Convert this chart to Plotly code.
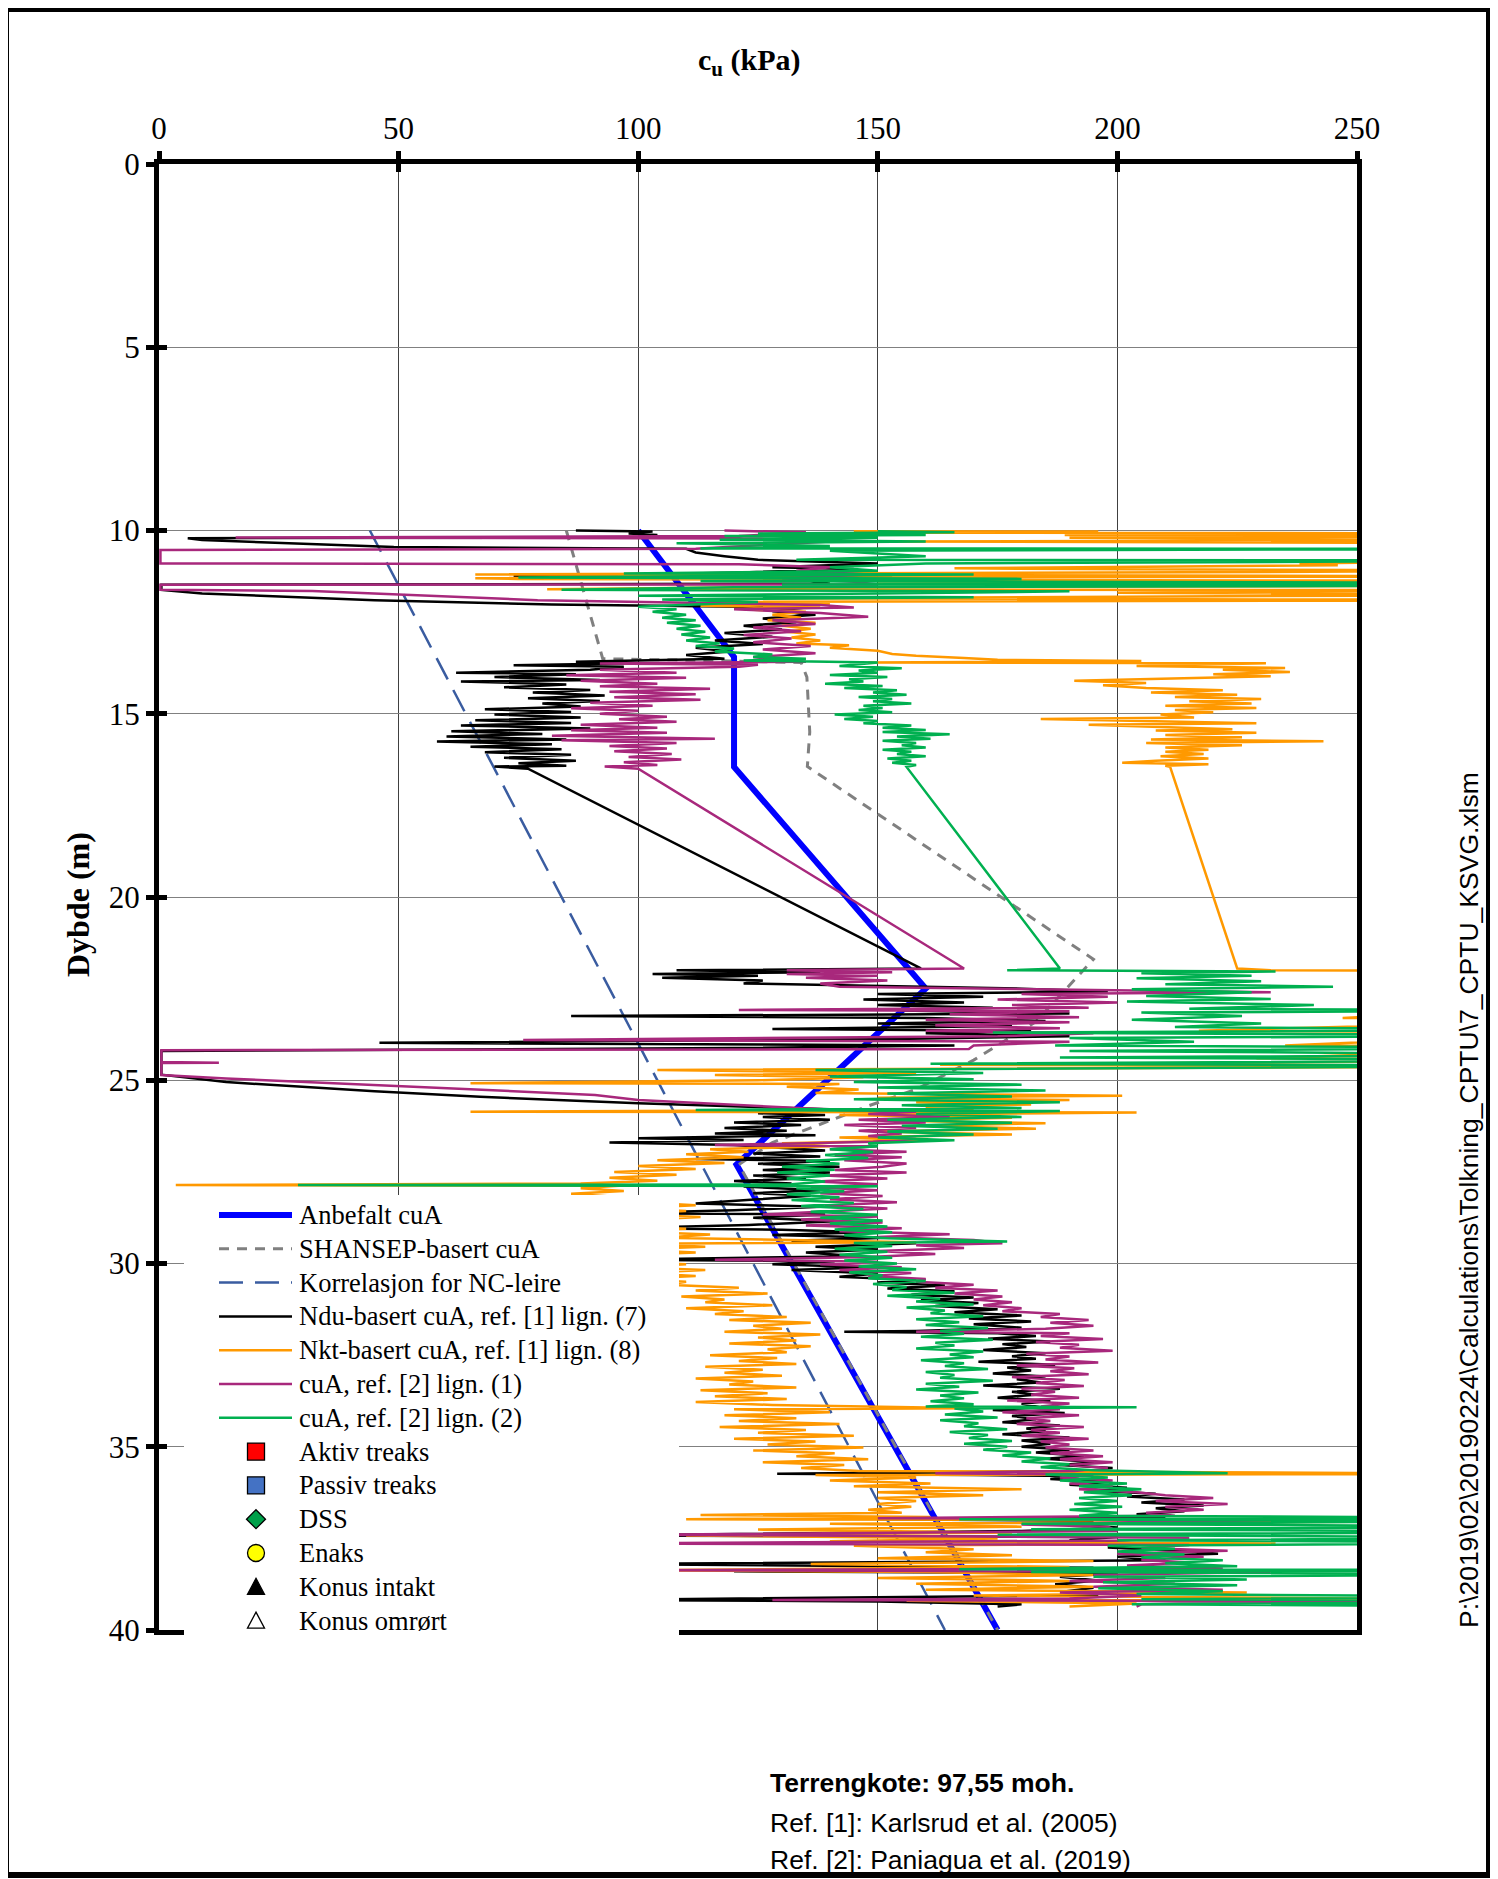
import plotly.graph_objects as go

# ---------------- DATA (cu in kPa, depth in m) ----------------
X_TICKS = [0, 50, 100, 150, 200, 250]
Y_TICKS = [0, 5, 10, 15, 20, 25, 30, 35, 40]

# (depth, cu)
ANBEFALT = [(10, 100), (13.45, 120), (16.45, 120), (22.5, 160), (27.3, 120.5), (40, 175)]
SHANSEP = [(10, 85), (13.5, 92.6), (13.53, 107), (13.6, 134), (14.0, 135.2), (15.5, 135.8), (16.44, 135.3),
           (21.7, 195), (23.4, 183), (24.45, 170), (25.25, 158), (25.7, 148), (26.3, 136), (26.7, 128),
           (27.3, 121), (40, 175)]
KORR_NC = [(10, 44), (40, 164)]

NDU = [(10.00, 87), (10.03, 103), (10.08, 98), (10.12, 104), (10.19, 100), (10.21, 6), (10.26, 9), (10.45, 49),
       (10.5, 110), (10.6, 112), (10.7, 118), (10.8, 125), (10.9, 150), (11.0, 128), (11.05, 145), (11.15, 120),
       (11.25, 74), (11.28, 153), (11.35, 135), (11.45, 140), (11.48, 0.5), (11.62, 0.5), (11.72, 9), (11.9, 45),
       (12.02, 82), (12.05, 101),
       (12.1, 135), (12.2, 128), (12.3, 137), (12.4, 126), (12.5, 133), (12.6, 122), (12.7, 130), (12.8, 118),
       (12.9, 128), (13.0, 116), (13.1, 126), (13.2, 112), (13.3, 119), (13.4, 110), (13.5, 118), (13.58, 87),
       (13.62, 99), (13.68, 74), (13.72, 97), (13.8, 90), (13.88, 62), (13.92, 87), (14.0, 70), (14.08, 92),
       (14.12, 63), (14.2, 85), (14.28, 72), (14.35, 90), (14.42, 78), (14.5, 93), (14.58, 77), (14.65, 92),
       (14.72, 80), (14.8, 88), (14.88, 68), (14.95, 86), (15.02, 70), (15.1, 88), (15.18, 66), (15.25, 86),
       (15.32, 63), (15.4, 90), (15.48, 61), (15.55, 80), (15.62, 60), (15.7, 85), (15.76, 58), (15.83, 82),
       (15.9, 65), (15.97, 84), (16.05, 68), (16.12, 86), (16.2, 72), (16.28, 87), (16.35, 75), (16.42, 85),
       (16.44, 70), (16.5, 77),
       (21.95, 159),
       (22.0, 108), (22.05, 138), (22.1, 103), (22.15, 125), (22.2, 105), (22.28, 126), (22.36, 122), (22.5, 180),
       (22.58, 198), (22.65, 150), (22.72, 172), (22.8, 147), (22.88, 168), (22.95, 150), (23.02, 174), (23.1, 155),
       (23.18, 190), (23.25, 86), (23.3, 160), (23.38, 185), (23.45, 150), (23.52, 178), (23.6, 128), (23.65, 182),
       (23.72, 160), (23.8, 190), (23.88, 150), (23.98, 46), (24.05, 166), (24.12, 120), (24.2, 0.5), (24.85, 0.5),
       (25.05, 14), (25.3, 45), (25.45, 67), (25.63, 100), (25.82, 147),
       (25.9, 125), (25.95, 139), (26.0, 126), (26.08, 140), (26.15, 120), (26.22, 134), (26.3, 118), (26.38, 131),
       (26.45, 116), (26.5, 137), (26.58, 100), (26.63, 122), (26.7, 94), (26.77, 120), (26.85, 130), (26.92, 139),
       (27.0, 124), (27.08, 138), (27.15, 112), (27.2, 140), (27.28, 125), (27.36, 142), (27.45, 126), (27.52, 140),
       (27.6, 124), (27.68, 135), (27.75, 120), (27.82, 132), (27.9, 122), (28.0, 138), (28.08, 124), (28.15, 136),
       (28.25, 125), (28.36, 112), (28.45, 138), (28.55, 120), (28.63, 95), (28.66, 139), (28.75, 124), (28.85, 141),
       (28.95, 123), (29.04, 95), (29.08, 130), (29.15, 148), (29.22, 128), (29.3, 152), (29.38, 132), (29.45, 158),
       (29.54, 137), (29.62, 150), (29.7, 135), (29.8, 146), (29.9, 95), (29.94, 141), (30.02, 128), (30.1, 148),
       (30.18, 132), (30.27, 150), (30.36, 142), (30.45, 158), (30.52, 150), (30.6, 164), (30.68, 152), (30.76, 166),
       (30.85, 157), (30.93, 170), (31.0, 159), (31.08, 171), (31.16, 162), (31.25, 175), (31.33, 166), (31.42, 180),
       (31.5, 169), (31.58, 182), (31.66, 170), (31.75, 180), (31.84, 158), (31.86, 143), (31.9, 175), (31.98, 183),
       (32.05, 173), (32.13, 186), (32.2, 176), (32.28, 181), (32.36, 172), (32.45, 185), (32.53, 178), (32.6, 183),
       (32.68, 171), (32.76, 187), (32.84, 177), (32.92, 182), (33.0, 174), (33.08, 185), (33.16, 179), (33.25, 184),
       (33.33, 172), (33.42, 188), (33.5, 178), (33.58, 183), (33.66, 175), (33.75, 186), (33.83, 180), (33.92, 184),
       (34.0, 174), (34.08, 189), (34.16, 178), (34.25, 183), (34.33, 176), (34.42, 188), (34.5, 181), (34.58, 185),
       (34.66, 176), (34.75, 190), (34.83, 180), (34.92, 186), (35.0, 180), (35.08, 190), (35.16, 183), (35.25, 193),
       (35.33, 185), (35.42, 196), (35.5, 188), (35.58, 199), (35.66, 190), (35.74, 129), (35.77, 170), (35.8, 192),
       (35.88, 186), (35.96, 198), (36.04, 190), (36.12, 202), (36.2, 195), (36.28, 208), (36.36, 202), (36.44, 214),
       (36.52, 205), (36.6, 218), (36.68, 208), (36.76, 214), (36.84, 204), (36.92, 210), (36.98, 150), (37.02, 195),
       (37.1, 188), (37.2, 200), (37.3, 180), (37.42, 90), (37.46, 200), (37.55, 190), (37.65, 205), (37.75, 198),
       (37.85, 215), (37.92, 221), (38.0, 200), (38.1, 210), (38.2, 90), (38.25, 150), (38.3, 195), (38.4, 120),
       (38.45, 200), (38.55, 188), (38.65, 196), (38.75, 187), (38.85, 195), (38.95, 189), (39.05, 196), (39.18, 90),
       (39.22, 150), (39.3, 180), (39.36, 175)]

NKT = [(10.02, 145), (10.03, 196), (10.06, 154), (10.08, 300), (10.12, 189), (10.15, 300), (10.2, 190), (10.25, 300),
       (10.3, 154), (10.35, 300), (10.45, 280), (10.6, 300), (10.8, 300), (10.9, 238), (10.95, 246), (11.03, 166),
       (11.06, 202), (11.1, 300), (11.2, 66), (11.25, 300), (11.3, 66), (11.32, 75), (11.38, 300), (11.45, 150),
       (11.5, 300), (11.55, 124), (11.6, 81), (11.63, 300), (11.7, 200), (11.75, 300), (11.85, 126), (11.9, 300),
       (11.95, 115), (12.0, 140), (12.05, 113),
       (12.1, 138), (12.15, 122), (12.22, 135), (12.3, 128), (12.38, 134), (12.45, 127), (12.52, 137), (12.6, 130),
       (12.68, 136), (12.76, 131), (12.84, 137), (12.92, 132), (13.0, 138), (13.08, 133), (13.13, 144), (13.2, 140),
       (13.28, 150), (13.37, 153), (13.42, 158), (13.48, 168), (13.53, 175), (13.56, 205), (13.6, 148), (13.62, 231),
       (13.7, 204), (13.75, 235), (13.8, 222), (13.86, 236), (13.92, 220), (13.98, 232), (14.04, 210), (14.1, 191),
       (14.16, 206), (14.22, 197), (14.3, 206), (14.36, 222), (14.42, 207), (14.48, 225), (14.54, 212), (14.6, 230),
       (14.66, 215), (14.72, 228), (14.78, 210), (14.84, 229), (14.9, 212), (14.96, 220), (15.02, 209), (15.1, 216),
       (15.14, 184), (15.2, 206), (15.26, 229), (15.3, 194), (15.36, 210), (15.42, 224), (15.46, 208), (15.52, 229),
       (15.58, 210), (15.64, 226), (15.7, 207), (15.75, 243), (15.8, 206), (15.86, 226), (15.92, 210), (15.98, 219),
       (16.04, 210), (16.1, 218), (16.16, 209), (16.22, 219), (16.28, 208), (16.34, 201), (16.38, 219), (16.42, 210),
       (16.45, 211),
       (21.95, 225),
       (22.0, 232), (22.03, 300), (22.4, 300), (22.7, 300), (23.0, 300), (23.3, 247), (23.35, 300), (23.65, 217),
       (23.7, 300), (24.05, 235), (24.1, 300), (24.4, 229), (24.45, 300), (24.58, 163), (24.62, 300),
       (24.72, 104), (24.8, 158), (24.86, 116), (24.92, 147), (25.0, 125), (25.08, 65), (25.1, 142), (25.18, 131),
       (25.25, 146), (25.35, 137), (25.42, 201), (25.48, 150), (25.54, 190), (25.6, 158), (25.66, 182), (25.72, 160),
       (25.8, 170), (25.86, 65), (25.88, 204), (25.95, 142), (26.02, 178), (26.1, 150), (26.17, 185), (26.24, 160),
       (26.32, 183), (26.4, 150), (26.48, 178), (26.56, 142), (26.64, 160), (26.72, 130), (26.8, 140), (26.88, 115),
       (26.95, 123), (27.02, 110), (27.1, 122), (27.18, 104), (27.26, 118), (27.34, 100), (27.42, 112), (27.5, 95),
       (27.58, 108), (27.66, 94), (27.74, 104), (27.82, 88), (27.86, 3.5), (27.88, 96), (27.95, 88), (28.02, 97),
       (28.1, 86), (28.18, 95), (28.25, 88),
       (28.33, 100), (28.41, 112), (28.49, 98), (28.57, 110), (28.65, 96), (28.73, 113), (28.81, 100), (28.89, 108),
       (28.97, 95), (29.05, 110), (29.13, 98), (29.21, 115), (29.3, 105), (29.42, 158), (29.46, 100), (29.54, 114),
       (29.62, 98), (29.7, 112), (29.78, 96), (29.86, 108), (29.94, 94), (30.02, 110), (30.1, 98), (30.18, 114),
       (30.26, 100), (30.34, 112), (30.42, 98),
       (30.5, 110), (30.58, 106), (30.66, 121), (30.74, 112), (30.82, 127), (30.9, 109), (30.98, 118), (31.06, 114),
       (31.14, 128), (31.22, 110), (31.3, 122), (31.38, 116), (31.46, 131), (31.54, 119), (31.62, 136), (31.7, 124),
       (31.78, 130), (31.86, 118), (31.94, 138), (32.02, 125), (32.1, 133), (32.18, 119), (32.26, 136), (32.34, 127),
       (32.42, 131), (32.5, 115), (32.58, 129), (32.66, 121), (32.74, 133), (32.82, 114), (32.9, 126), (32.98, 118),
       (33.06, 130), (33.14, 112), (33.22, 124), (33.3, 119), (33.38, 133), (33.46, 113), (33.54, 127), (33.62, 116),
       (33.7, 131), (33.78, 112), (33.86, 128), (33.95, 170), (33.98, 120), (34.06, 140), (34.14, 118), (34.22, 133),
       (34.3, 121), (34.38, 142), (34.46, 117), (34.54, 135), (34.62, 125), (34.7, 145), (34.78, 120), (34.86, 137),
       (34.94, 127), (35.02, 147), (35.1, 124), (35.18, 141), (35.26, 133), (35.34, 148), (35.42, 126), (35.5, 143),
       (35.58, 134), (35.66, 146), (35.74, 300), (35.77, 137), (35.84, 158),
       (35.92, 140), (36.0, 161), (36.08, 145), (36.16, 180), (36.24, 150), (36.32, 172), (36.4, 150), (36.48, 158),
       (36.56, 150), (36.64, 157), (36.72, 148), (36.8, 155), (36.86, 113), (36.92, 161), (36.98, 110), (37.02, 300),
       (37.1, 140), (37.18, 180), (37.26, 125), (37.34, 178), (37.42, 110), (37.5, 175), (37.58, 140), (37.64, 233),
       (37.7, 145), (37.8, 170), (37.88, 160), (37.96, 178), (38.04, 150), (38.12, 195), (38.2, 136), (38.28, 190),
       (38.37, 100), (38.42, 160), (38.5, 195), (38.58, 150), (38.66, 190), (38.74, 158), (38.82, 195), (38.9, 160),
       (38.98, 227), (39.06, 170), (39.14, 250), (39.2, 156), (39.28, 204), (39.36, 190)]

REF2_L1 = [(10.0, 118), (10.05, 135), (10.1, 128), (10.15, 121), (10.19, 16), (10.22, 125), (10.3, 140), (10.4, 125),
           (10.5, 112), (10.53, 0.3), (10.9, 0.3), (10.92, 121), (11.0, 140), (11.1, 133), (11.2, 148), (11.3, 130),
           (11.4, 145), (11.47, 150), (11.48, 0.3), (11.62, 0.3), (11.65, 32), (11.9, 79), (12.03, 138),
           (12.1, 145), (12.15, 120), (12.25, 138), (12.35, 148), (12.45, 128), (12.55, 137), (12.65, 124),
           (12.75, 134), (12.85, 122), (12.95, 132), (13.05, 124), (13.15, 136), (13.25, 126), (13.35, 137),
           (13.45, 124), (13.55, 130), (13.58, 135), (13.63, 92), (13.66, 125), (13.72, 121),
           (13.8, 92), (13.88, 108), (13.95, 85), (14.02, 110), (14.1, 88), (14.18, 104), (14.25, 92), (14.32, 115),
           (14.4, 94), (14.47, 112), (14.55, 95), (14.62, 113), (14.7, 90), (14.78, 103), (14.85, 86), (14.92, 100),
           (15.0, 92), (15.08, 106), (15.15, 96), (15.22, 108), (15.3, 88), (15.38, 104), (15.45, 86), (15.52, 106),
           (15.6, 82), (15.68, 116), (15.72, 84), (15.8, 108), (15.88, 94), (15.95, 106), (16.02, 95), (16.1, 107),
           (16.18, 98), (16.25, 109), (16.32, 97), (16.4, 104), (16.44, 93), (16.5, 100),
           (21.95, 168),
           (22.0, 131), (22.05, 153), (22.1, 131), (22.15, 150), (22.2, 135), (22.28, 152), (22.36, 138), (22.45, 142),
           (22.6, 232), (22.65, 180), (22.72, 198), (22.8, 175), (22.88, 200), (22.95, 178), (23.02, 194), (23.08, 121),
           (23.12, 190), (23.2, 165), (23.28, 192), (23.35, 160), (23.42, 190), (23.5, 162), (23.58, 188), (23.65, 160),
           (23.72, 195), (23.8, 175), (23.9, 76), (23.95, 190), (24.05, 170), (24.15, 169), (24.18, 0.5), (24.5, 0.5),
           (24.52, 12.5), (24.53, 0.5), (24.86, 0.5), (24.95, 14), (25.13, 46), (25.4, 91), (25.54, 100), (25.81, 142),
           (25.86, 158),
           (25.92, 148), (26.0, 165), (26.08, 146), (26.15, 160), (26.22, 143), (26.3, 158), (26.38, 146), (26.45, 155),
           (26.52, 148), (26.6, 158), (26.68, 149), (26.77, 116), (26.8, 150), (26.88, 140), (26.95, 156), (27.03, 141),
           (27.1, 155), (27.18, 143), (27.27, 156), (27.36, 151), (27.45, 141), (27.52, 156), (27.6, 139), (27.68, 152),
           (27.76, 137), (27.84, 150), (27.92, 136), (28.0, 150), (28.08, 138), (28.16, 151), (28.25, 140), (28.33, 154),
           (28.42, 139), (28.5, 152), (28.58, 138), (28.66, 126), (28.72, 150), (28.8, 134), (28.88, 151), (28.96, 135),
           (29.04, 155), (29.12, 142), (29.2, 165), (29.28, 150), (29.36, 170), (29.45, 176), (29.5, 158), (29.58, 168),
           (29.66, 150), (29.74, 162), (29.82, 148), (29.9, 116), (29.95, 150), (30.02, 138), (30.1, 155), (30.18, 142),
           (30.26, 157), (30.34, 148), (30.42, 160), (30.5, 158), (30.58, 170), (30.66, 162), (30.74, 175), (30.82, 166),
           (30.9, 176), (30.98, 170), (31.06, 178), (31.14, 172), (31.22, 180), (31.3, 176), (31.38, 188), (31.46, 184),
           (31.54, 194), (31.62, 186), (31.7, 195), (31.78, 185), (31.86, 158), (31.9, 190), (31.98, 184), (32.06, 197),
           (32.14, 183), (32.22, 192), (32.3, 188), (32.38, 199), (32.46, 181), (32.54, 190), (32.62, 185), (32.7, 196),
           (32.78, 179), (32.86, 191), (32.94, 186), (33.02, 194), (33.1, 178), (33.18, 189), (33.26, 183), (33.34, 193),
           (33.42, 180), (33.5, 187), (33.58, 182), (33.66, 192), (33.74, 177), (33.82, 190), (33.9, 184), (33.98, 188),
           (34.06, 176), (34.14, 192), (34.22, 181), (34.3, 186), (34.38, 179), (34.46, 193), (34.54, 182), (34.62, 188),
           (34.7, 180), (34.78, 194), (34.86, 184), (34.94, 190), (35.02, 185), (35.1, 195), (35.18, 186), (35.26, 197),
           (35.34, 188), (35.42, 199), (35.5, 190), (35.58, 198), (35.66, 191), (35.72, 162), (35.76, 195), (35.84, 188),
           (35.92, 199), (36.0, 190), (36.08, 199), (36.16, 192), (36.24, 204), (36.32, 210), (36.4, 220), (36.48, 208),
           (36.56, 223), (36.64, 210), (36.72, 218), (36.8, 206), (36.88, 212), (36.95, 150), (36.98, 247), (37.05, 205),
           (37.12, 180), (37.18, 198), (37.3, 200), (37.4, 100), (37.48, 215), (37.56, 200), (37.64, 90), (37.68, 215),
           (37.76, 205), (37.84, 223), (37.92, 200), (38.0, 218), (38.08, 205), (38.16, 215), (38.24, 202), (38.32, 222),
           (38.37, 100), (38.42, 232), (38.5, 195), (38.58, 210), (38.66, 190), (38.74, 212), (38.82, 195), (38.9, 222),
           (38.98, 188), (39.06, 205), (39.14, 190), (39.18, 128), (39.22, 250), (39.3, 205), (39.36, 204)]

REF2_L2 = [(10.02, 150), (10.05, 166), (10.08, 125), (10.12, 160), (10.15, 118), (10.2, 150), (10.25, 117), (10.3, 160),
           (10.35, 108), (10.42, 140), (10.49, 113), (10.5, 300), (10.55, 140), (10.7, 160), (10.8, 133), (10.82, 300),
           (10.9, 160), (11.0, 140), (11.1, 150), (11.17, 97), (11.2, 170), (11.28, 75), (11.32, 180), (11.38, 113),
           (11.43, 300), (11.47, 130), (11.5, 300), (11.55, 120), (11.62, 84), (11.66, 190), (11.72, 150), (11.78, 100),
           (11.82, 170), (11.88, 105), (11.95, 125), (12.02, 110), (12.08, 100),
           (12.15, 108), (12.22, 103), (12.3, 110), (12.38, 105), (12.45, 112), (12.52, 106), (12.6, 113), (12.68, 108),
           (12.76, 114), (12.84, 109), (12.92, 115), (13.0, 110), (13.08, 117), (13.15, 112), (13.22, 120), (13.3, 116),
           (13.38, 128), (13.45, 124), (13.5, 135), (13.55, 122), (13.6, 150), (13.63, 148),
           (13.7, 142), (13.76, 155), (13.82, 146), (13.88, 150), (13.94, 140), (14.0, 152), (14.06, 144), (14.12, 147),
           (14.18, 139), (14.24, 151), (14.3, 143), (14.36, 154), (14.42, 149), (14.48, 156), (14.54, 146), (14.6, 153),
           (14.66, 149), (14.72, 157), (14.78, 147), (14.84, 151), (14.9, 146), (14.96, 153), (15.02, 141), (15.08, 149),
           (15.14, 143), (15.2, 150), (15.26, 147), (15.32, 157), (15.38, 151), (15.44, 160), (15.5, 151), (15.56, 165),
           (15.62, 154), (15.68, 161), (15.74, 151), (15.8, 158), (15.86, 155), (15.92, 160), (15.98, 151), (16.04, 157),
           (16.1, 154), (16.16, 160), (16.22, 152), (16.28, 157), (16.34, 153), (16.4, 158), (16.45, 156),
           (21.95, 188),
           (22.0, 177), (22.03, 233), (22.08, 205), (22.15, 228), (22.22, 204), (22.3, 230), (22.38, 210), (22.45, 245),
           (22.52, 203), (22.6, 228), (22.7, 206), (22.78, 232), (22.85, 202), (22.95, 241), (23.05, 215), (23.1, 300),
           (23.15, 205), (23.25, 226), (23.35, 203), (23.45, 230), (23.55, 212), (23.62, 300), (23.7, 174), (23.78, 300),
           (23.85, 190), (23.95, 216), (24.05, 187), (24.12, 300), (24.2, 190), (24.3, 300), (24.38, 188), (24.45, 300),
           (24.55, 161), (24.6, 300), (24.72, 137), (24.8, 172),
           (24.9, 140), (24.97, 170), (25.05, 145), (25.12, 180), (25.2, 150), (25.28, 185), (25.36, 152), (25.44, 178),
           (25.52, 145), (25.6, 188), (25.68, 155), (25.76, 180), (25.81, 112), (25.84, 188), (25.92, 158), (26.0, 180),
           (26.08, 152), (26.16, 178), (26.24, 155), (26.32, 175), (26.4, 152), (26.48, 170), (26.56, 150), (26.64, 166),
           (26.72, 148), (26.8, 150), (26.88, 140), (26.96, 149), (27.04, 139), (27.12, 148), (27.2, 135), (27.28, 142),
           (27.36, 130), (27.44, 141), (27.52, 129), (27.6, 140), (27.68, 131), (27.76, 139), (27.84, 132), (27.86, 29),
           (27.89, 150), (27.95, 133), (28.03, 143), (28.11, 131), (28.19, 142), (28.27, 132), (28.35, 145), (28.43, 134),
           (28.51, 147), (28.59, 136), (28.67, 150), (28.75, 138), (28.83, 151), (28.91, 140), (28.99, 152), (29.07, 141),
           (29.15, 153), (29.23, 143), (29.31, 152), (29.4, 177), (29.44, 145), (29.52, 153), (29.6, 141), (29.68, 152),
           (29.76, 142), (29.84, 153), (29.92, 143), (30.0, 154), (30.08, 146), (30.16, 158), (30.24, 144), (30.32, 151),
           (30.4, 148), (30.48, 160), (30.56, 149), (30.64, 156), (30.72, 153), (30.8, 166), (30.88, 152), (30.96, 163),
           (31.04, 158), (31.12, 170), (31.2, 156), (31.28, 164), (31.36, 161), (31.44, 172), (31.52, 158), (31.6, 167),
           (31.68, 160), (31.76, 173), (31.84, 163), (31.92, 168), (32.0, 159), (32.08, 174), (32.16, 162), (32.24, 166),
           (32.32, 158), (32.4, 172), (32.48, 165), (32.56, 170), (32.64, 159), (32.72, 168), (32.8, 164), (32.88, 173),
           (32.96, 160), (33.04, 166), (33.12, 163), (33.2, 174), (33.28, 160), (33.36, 167), (33.44, 158), (33.52, 171),
           (33.6, 163), (33.68, 168), (33.76, 161), (33.84, 170), (33.9, 160), (33.92, 204), (33.96, 166), (34.04, 172),
           (34.12, 164), (34.2, 175), (34.28, 163), (34.36, 171), (34.44, 168), (34.52, 177), (34.6, 165), (34.68, 173),
           (34.76, 169), (34.84, 178), (34.92, 168), (35.0, 177), (35.08, 172), (35.16, 182), (35.24, 176), (35.32, 186),
           (35.4, 180), (35.48, 190), (35.56, 184), (35.64, 195), (35.72, 223), (35.76, 185), (35.84, 198), (35.92, 188),
           (36.0, 202), (36.08, 192), (36.16, 205), (36.24, 193), (36.32, 203), (36.4, 192), (36.48, 200), (36.56, 191),
           (36.64, 201), (36.72, 190), (36.8, 200), (36.88, 192), (36.95, 300), (36.98, 167), (37.02, 300), (37.1, 180),
           (37.18, 300), (37.25, 182), (37.32, 300), (37.4, 175), (37.48, 300), (37.55, 200), (37.62, 300), (37.7, 198),
           (37.78, 212), (37.86, 200), (37.94, 214), (38.02, 205), (38.1, 222), (38.18, 210), (38.26, 225), (38.34, 167),
           (38.37, 300), (38.42, 182), (38.48, 300), (38.55, 195), (38.62, 227), (38.7, 197), (38.78, 225), (38.86, 196),
           (38.94, 222), (39.02, 204), (39.1, 300), (39.16, 205), (39.22, 300), (39.3, 203), (39.36, 300)]

LEGEND_MARKERS = ["Aktiv treaks", "Passiv treaks", "DSS", "Enaks", "Konus intakt", "Konus omrørt"]

# ---------------- LAYOUT HELPERS ----------------
OFF = 8                       # browser body margin (page px -> figure px)
W, H = 1498 - 2 * OFF, 1879 - OFF
PL, PR, PT, PB = 159, 1357, 164, 1630  # plot area, page px


def fx(px):
    return (px - PL) / (PR - PL)


def fy(py):
    return (PB - py) / (PB - PT)


SERIF = "Liberation Serif, Times New Roman, serif"
SANS = "Liberation Sans, Arial, sans-serif"


def split(pairs):
    return [p[1] for p in pairs], [p[0] for p in pairs]


fig = go.Figure()

line_series = [
    ("Anbefalt cuA", ANBEFALT, dict(color="#0000FF", width=6)),
    ("SHANSEP-basert cuA", SHANSEP, dict(color="#808080", width=3, dash="10px,8px")),
    ("Korrelasjon for NC-leire", KORR_NC, dict(color="#3A5CA0", width=2.5, dash="24px,12px")),
    ("Ndu-basert cuA, ref. [1] lign. (7)", NDU, dict(color="#000000", width=2.5)),
    ("Nkt-basert cuA, ref. [1] lign. (8)", NKT, dict(color="#FF9900", width=2.5)),
    ("cuA, ref. [2] lign. (1)", REF2_L1, dict(color="#A8287C", width=2.5)),
    ("cuA, ref. [2] lign. (2)", REF2_L2, dict(color="#00B050", width=2.5)),
]
for name, pairs, ln in line_series:
    xs, ys = split(pairs)
    fig.add_trace(go.Scatter(x=xs, y=ys, mode="lines", name=name, line=ln, showlegend=False))

# dummy trace for the overlay axes (inside ticks -> crossing tick marks)
fig.add_trace(go.Scatter(x=[None], y=[None], xaxis="x2", yaxis="y2", showlegend=False, hoverinfo="skip"))

axis_common = dict(showline=True, linewidth=5, linecolor="black", mirror=True, zeroline=False,
                   ticks="outside", ticklen=8, tickwidth=5, tickcolor="black")
inside_common = dict(ticks="inside", ticklen=8, tickwidth=5, tickcolor="black", showticklabels=False,
                     showgrid=False, showline=False, zeroline=False)

fig.update_layout(
    width=W, height=H,
    margin=dict(l=PL - OFF, r=(W + OFF) - PR, t=PT - OFF, b=(H + OFF) - PB, pad=0),
    paper_bgcolor="white", plot_bgcolor="white",
    showlegend=False,
    xaxis=dict(range=[0, 250], side="top", tickvals=X_TICKS, showgrid=True, gridcolor="#404040", gridwidth=1,
               tickfont=dict(family=SERIF, size=31, color="black"), **axis_common),
    yaxis=dict(range=[40, 0], tickvals=Y_TICKS, showgrid=True, gridcolor="#808080", gridwidth=1.3,
               tickfont=dict(family=SERIF, size=31, color="black"), **axis_common),
    xaxis2=dict(range=[0, 250], overlaying="x", side="top", anchor="y2", tickvals=X_TICKS, **inside_common),
    yaxis2=dict(range=[40, 0], overlaying="y", side="left", anchor="x2", tickvals=Y_TICKS, **inside_common),
)

shapes = []
# white legend block (covers the data lines, as in the original)
shapes.append(dict(type="rect", xref="paper", yref="paper", x0=fx(184), x1=fx(679), y0=fy(1643), y1=fy(1195),
                   fillcolor="white", line=dict(width=0), layer="above"))

# legend glyphs
LEG_Y0, LEG_DY = 1215, 33.8
LEG_LX0, LEG_LX1, LEG_MX, LEG_TX = 219, 292, 256, 297
annos = []
for i, (name, _, ln) in enumerate(line_series):
    yy = fy(LEG_Y0 + i * LEG_DY)
    shapes.append(dict(type="line", xref="paper", yref="paper", x0=fx(LEG_LX0), x1=fx(LEG_LX1), y0=yy, y1=yy,
                       line=ln, layer="above"))
    annos.append(dict(text=name, x=fx(LEG_TX), y=yy, xanchor="left", yanchor="middle",
                      font=dict(family=SERIF, size=26.5, color="black")))

r = 8.5
mk_fill = ["#FF0000", "#4472C4", "#00A04A", "#FFFF00", "#000000", "#FFFFFF"]
mk_kind = ["square", "square", "diamond", "circle", "triangle", "triangle"]
for j, name in enumerate(LEGEND_MARKERS):
    cy = LEG_Y0 + (len(line_series) + j) * LEG_DY
    cx = LEG_MX
    kind = mk_kind[j]
    edge = dict(color="black", width=1.3)
    if kind == "square":
        shapes.append(dict(type="rect", xref="paper", yref="paper", x0=fx(cx - r), x1=fx(cx + r),
                           y0=fy(cy + r), y1=fy(cy - r), fillcolor=mk_fill[j], line=edge, layer="above"))
    elif kind == "circle":
        shapes.append(dict(type="circle", xref="paper", yref="paper", x0=fx(cx - r), x1=fx(cx + r),
                           y0=fy(cy + r), y1=fy(cy - r), fillcolor=mk_fill[j], line=edge, layer="above"))
    elif kind == "diamond":
        d = r + 1
        p = (f"M {fx(cx)},{fy(cy - d)} L {fx(cx + d)},{fy(cy)} L {fx(cx)},{fy(cy + d)} "
             f"L {fx(cx - d)},{fy(cy)} Z")
        shapes.append(dict(type="path", xref="paper", yref="paper", path=p, fillcolor=mk_fill[j], line=edge,
                           layer="above"))
    else:
        p = (f"M {fx(cx)},{fy(cy - r)} L {fx(cx + r)},{fy(cy + r - 1)} L {fx(cx - r)},{fy(cy + r - 1)} Z")
        shapes.append(dict(type="path", xref="paper", yref="paper", path=p, fillcolor=mk_fill[j], line=edge,
                           layer="above"))
    annos.append(dict(text=name, x=fx(LEG_TX), y=fy(cy), xanchor="left", yanchor="middle",
                      font=dict(family=SERIF, size=26.5, color="black")))

# outer frame
shapes.append(dict(type="rect", xref="paper", yref="paper", x0=fx(6), x1=fx(1489), y0=fy(1875), y1=fy(9),
                   fillcolor="rgba(0,0,0,0)", line=dict(color="black", width=6), layer="above"))

annos += [
    dict(text="<b>c<sub>u</sub> (kPa)</b>", x=fx(749), y=fy(62), font=dict(family=SERIF, size=30, color="black"),
         xanchor="center", yanchor="middle"),
    dict(text="<b>Dybde (m)</b>", x=fx(78), y=fy(905), textangle=-90, font=dict(family=SERIF, size=32, color="black"),
         xanchor="center", yanchor="middle"),
    dict(text="P:\\2019\\02\\20190224\\Calculations\\Tolkning_CPTU\\7_CPTU_KSVG.xlsm", x=fx(1469), y=fy(1200),
         textangle=-90, font=dict(family=SANS, size=26.5, color="black"), xanchor="center", yanchor="middle"),
    dict(text="<b>Terrengkote: 97,55 moh.</b>", x=fx(768), y=fy(1783), font=dict(family=SANS, size=26.5, color="black"),
         xanchor="left", yanchor="middle"),
    dict(text="Ref. [1]: Karlsrud et al. (2005)", x=fx(768), y=fy(1823), font=dict(family=SANS, size=26.5, color="black"),
         xanchor="left", yanchor="middle"),
    dict(text="Ref. [2]: Paniagua et al. (2019)", x=fx(768), y=fy(1860), font=dict(family=SANS, size=26.5, color="black"),
         xanchor="left", yanchor="middle"),
]

fig.update_layout(shapes=shapes)
for a in annos:
    fig.add_annotation(xref="paper", yref="paper", showarrow=False, **a)

fig.write_html("out.html")
